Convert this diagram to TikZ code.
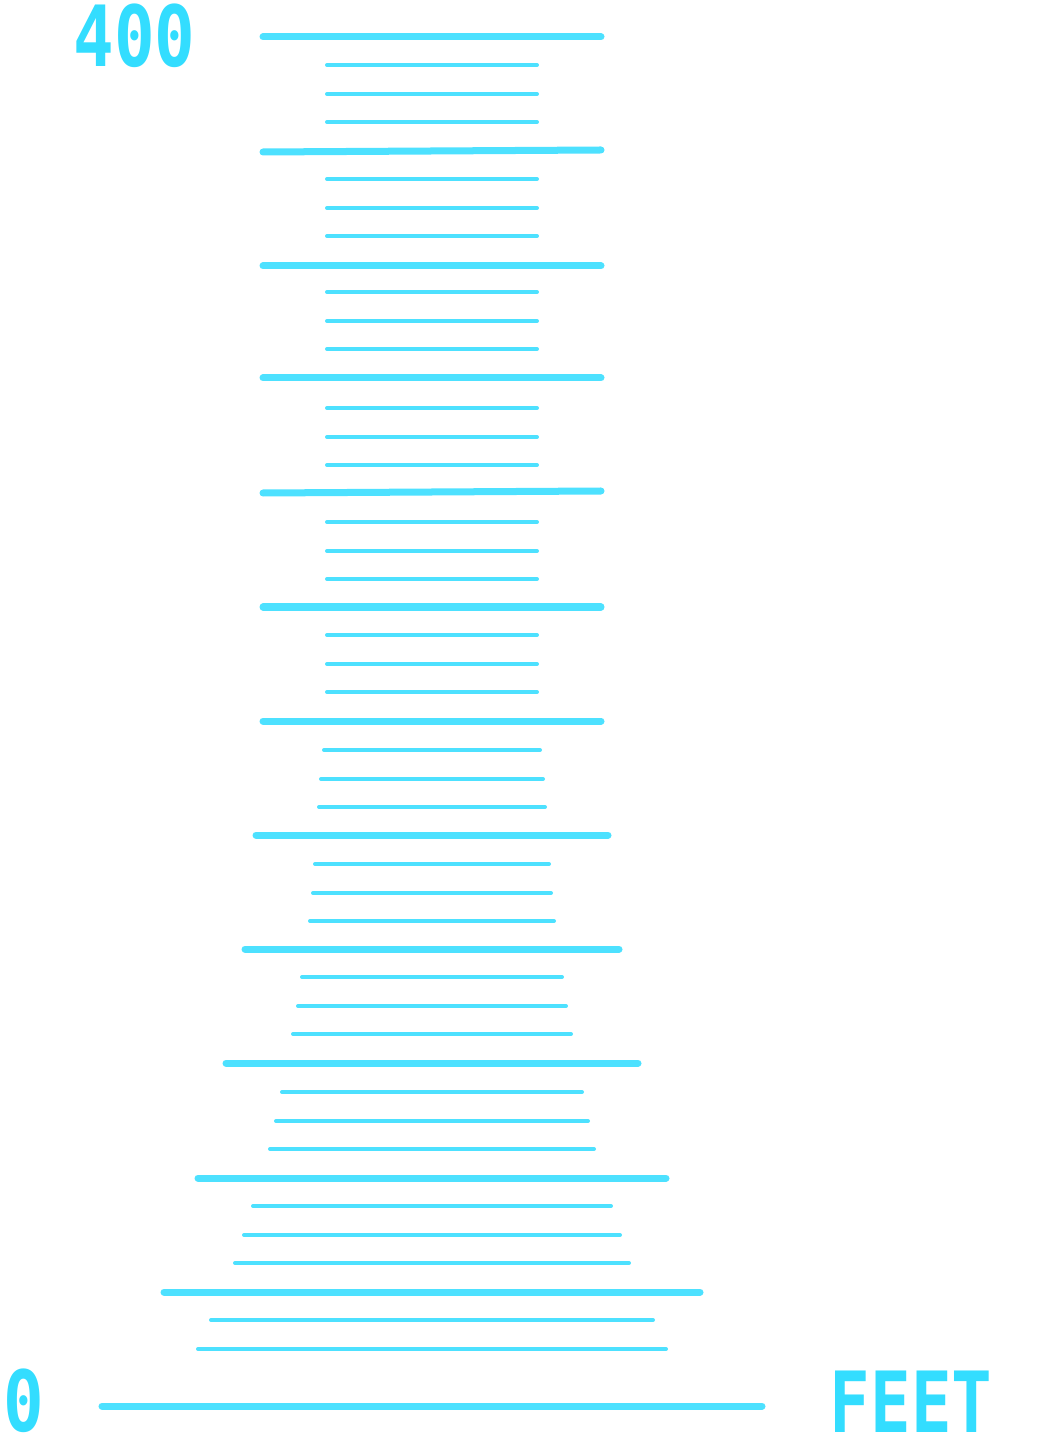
\documentclass[tikz,border=0pt]{standalone}
\usepackage{fontspec}
\usepackage{tikz}
\usetikzlibrary{positioning}
\newfontfamily\readoutfont{DejaVu Sans Mono Bold}
\definecolor{rung}{RGB}{77,225,255}
\definecolor{readout}{RGB}{51,221,255}
\tikzset{
  major/.style={rung, line width=0.07cm, line cap=round},
  minor/.style={rung, line width=0.04cm, line cap=round},
  readout/.style={font=\readoutfont\fontsize{24}{24}\selectfont, text=readout, inner sep=0pt, xscale=0.8, transform shape}
}
\begin{document}
\begin{tikzpicture}[x=0.01cm, y=-0.01cm]
\useasboundingbox (0,0) rectangle (1042,1443);
% Major rungs (left y / right y / half width)
\foreach \ya/\yb/\h in {37/37/169, 152/150/169, 266/266/169, 378/378/169, 493/491/169,
    607/607/169, 721/721/169, 835/835/176, 949/949/187, 1063/1063/206,
    1178/1178/234, 1292/1292/268, 1406/1406/330} {
    \draw[major] ({432-\h}, \ya) -- ({432+\h}, \yb);
}
% Minor rungs
\foreach \y/\h in {65/105, 94/105, 122/105, 179/105, 208/105, 236/105,
    292/105, 321/105, 349/105, 408/105, 437/105, 465/105,
    522/105, 551/105, 579/105, 635/105, 664/105, 692/105,
    750/108, 779/111, 807/113, 864/117, 893/119, 921/122,
    977/130, 1006/134, 1034/139, 1092/150, 1121/156, 1149/162,
    1206/179, 1235/188, 1263/197, 1320/221, 1349/234} {
    \draw[minor] ({432-\h}, \y) -- ({432+\h}, \y);
}
% Labels
\node[readout, anchor=north west] (top) at (73,3) {400};
\node[readout, anchor=south west] (zero) at (3,1433) {0};
\node[readout, anchor=south east] (unit) at (993,1433) {FEET};
\end{tikzpicture}
\end{document}
